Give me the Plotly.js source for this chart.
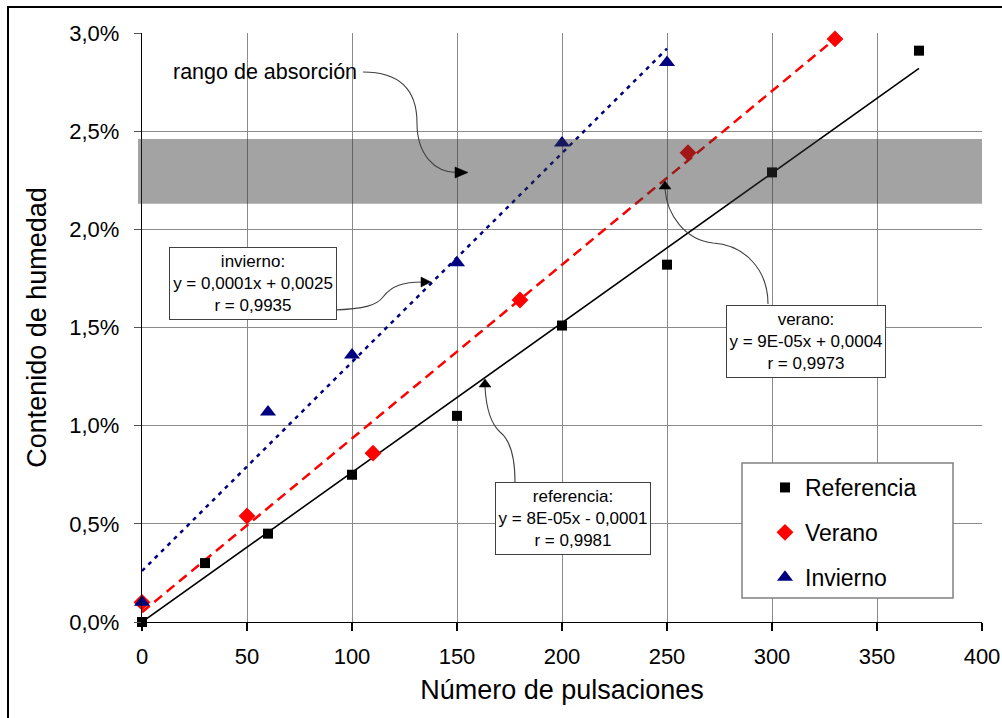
<!DOCTYPE html>
<html>
<head>
<meta charset="utf-8">
<script src="https://cdn.plot.ly/plotly-3.0.1.min.js"></script>
<style>html,body{margin:0;padding:0;background:#fff;}#chart{width:1002px;height:718px;}</style>
</head>
<body>
<div id="chart"></div>
<script>
// ---- data ----
const refX = [0, 30, 60, 100, 150, 200, 250, 300, 370];
const refY = [0.0000, 0.0030, 0.0045, 0.0075, 0.0105, 0.0151, 0.0182, 0.0229, 0.0291];
const verX = [0, 50, 110, 180, 260, 330];
const verY = [0.0010, 0.0054, 0.0086, 0.0164, 0.0239, 0.0297];
const invX = [0, 60, 100, 150, 200, 250];
const invY = [0.0010, 0.0107, 0.0136, 0.0183, 0.0244, 0.0285];
// trend lines (end points)
const refTrendX = [0, 370];
const refTrendY = [0.0000, 0.0282];
const verTrendX = [0, 330];
const verTrendY = [0.0005, 0.0297];
const invTrendX = [0, 250];
const invTrendY = [0.0026, 0.0292];
// absorption range
const bandRange = [0.0213, 0.0246];
const seriesNames = ['Referencia', 'Verano', 'Invierno'];
const xTicks = [0, 50, 100, 150, 200, 250, 300, 350, 400];
const yTicks = [0, 0.005, 0.010, 0.015, 0.020, 0.025, 0.030];
const eqRef = ['referencia:', 'y = 8E-05x - 0,0001', 'r = 0,9981'];
const eqVer = ['verano:', 'y = 9E-05x + 0,0004', 'r = 0,9973'];
const eqInv = ['invierno:', 'y = 0,0001x + 0,0025', 'r = 0,9935'];
const bandLabel = 'rango de absorción';

// ---- layout helpers (pixel -> paper) ----
const L = 142, T = 33, W = 840, H = 589;
const PX = p => (p - L) / W;
const PY = p => (T + H - p) / H;
const toPaper = s => s.replace(/(-?\d+\.?\d*),(-?\d+\.?\d*)/g, (m, a, b) => PX(+a).toFixed(5) + ',' + PY(+b).toFixed(5));
const FONT = 'Liberation Sans, Arial, sans-serif';

const traces = [
  {x: refTrendX, y: refTrendY, mode: 'lines', line: {color: '#000', width: 1.6}, showlegend: false, hoverinfo: 'skip', cliponaxis: false},
  {x: verTrendX, y: verTrendY, mode: 'lines', line: {color: '#ff0000', width: 2.5, dash: '10px,6px'}, showlegend: false, hoverinfo: 'skip', cliponaxis: false},
  {x: invTrendX, y: invTrendY, mode: 'lines', line: {color: '#000080', width: 2.5, dash: '4px,5px'}, showlegend: false, hoverinfo: 'skip', cliponaxis: false},
  {x: refX, y: refY, name: seriesNames[0], mode: 'markers', legendgroup: 'a', marker: {symbol: 'square', size: 10, color: '#000'}, cliponaxis: false},
  {x: verX, y: verY, name: seriesNames[1], mode: 'markers', legendgroup: 'b', marker: {symbol: 'diamond', size: 13, color: '#ff0000'}, cliponaxis: false},
  {x: invX, y: invY, name: seriesNames[2], mode: 'markers', legendgroup: 'c', marker: {symbol: 'triangle-up', size: 14, color: '#000080'}, cliponaxis: false}
];

const arrowColor = '#404040';
const curve = (d) => ({type: 'path', xref: 'paper', yref: 'paper', path: toPaper(d), line: {color: arrowColor, width: 1.1}, layer: 'above'});
const head = (d) => ({type: 'path', xref: 'paper', yref: 'paper', path: toPaper(d), fillcolor: '#000', line: {color: '#000', width: 0.5}, layer: 'above'});

const shapes = [
  // outer frame
  {type: 'rect', xref: 'paper', yref: 'paper', x0: PX(8), x1: PX(1012), y0: PY(7), y1: PY(730), line: {color: '#000', width: 2}, layer: 'below'},
  // absorption band (semi-transparent over the data)
  {type: 'rect', xref: 'paper', yref: 'y', x0: PX(138), x1: 1, y0: bandRange[0], y1: bandRange[1], fillcolor: 'rgb(50,50,50)', opacity: 0.45, line: {width: 0}, layer: 'above'},
  // legend box
  {type: 'rect', xref: 'paper', yref: 'paper', x0: PX(742), x1: PX(953), y0: PY(463), y1: PY(598), fillcolor: '#fff', line: {color: '#808080', width: 1.5}, layer: 'above'},
  // arrows
  curve('M363,72 C400,72 417,90 417,123 C417,155 435,172 456,172.5'),
  head('M468,172.5 L455,167 L455,178 Z'),
  curve('M333,310 C365,309 377,305 383,297 C392,285 405,282 422,282'),
  head('M431,282 L421,277 L421,287 Z'),
  curve('M768,304 C768,270 745,245 713,243 C685,240 667,215 665,189'),
  head('M665,181 L659,189 L671,189 Z'),
  curve('M515,482 C515,455 510,440 500,432 C490,423 486,405 485,387'),
  head('M485,379 L479,387 L491,387 Z')
];

const box = (lines, x0, y0, x1, y1) => ({
  xref: 'paper', yref: 'paper', x: PX((x0 + x1) / 2), y: PY((y0 + y1) / 2),
  xanchor: 'center', yanchor: 'middle', showarrow: false,
  text: lines.join('<br>'), align: 'center',
  font: {family: FONT, size: 17, color: '#000'},
  width: x1 - x0 - 2, height: y1 - y0 - 2, borderpad: 0,
  bgcolor: '#fff', bordercolor: '#404040', borderwidth: 1
});

const annotations = [
  {xref: 'paper', yref: 'paper', x: PX(265), y: PY(72), xanchor: 'center', yanchor: 'middle', showarrow: false,
   text: bandLabel, font: {family: FONT, size: 21.5, color: '#000'}},
  box(eqInv, 169, 247, 337, 320),
  box(eqVer, 726, 305, 886, 378),
  box(eqRef, 495, 482, 651, 555)
];

const layout = {
  width: 1002, height: 718,
  margin: {l: L, r: 1002 - L - W, t: T, b: 718 - T - H, pad: 0},
  paper_bgcolor: '#fff', plot_bgcolor: '#fff',
  separators: ',.',
  font: {family: FONT, color: '#000'},
  showlegend: true,
  legend: {x: PX(765), y: PY(466), xanchor: 'left', yanchor: 'top', bgcolor: 'rgba(0,0,0,0)', borderwidth: 0,
           font: {family: FONT, size: 23, color: '#000'}, traceorder: 'grouped', tracegroupgap: 12},
  xaxis: {
    range: [0, 400], tickvals: xTicks, ticktext: xTicks.map(String),
    showgrid: true, gridcolor: '#8a8a8a', gridwidth: 1,
    showline: true, linecolor: '#000', linewidth: 1.3,
    ticks: 'outside', ticklen: 8, tickcolor: '#000', tickwidth: 1.3,
    tickfont: {family: FONT, size: 22, color: '#000'}, zeroline: false, ticklabelstandoff: 6,
    title: {text: 'Número de pulsaciones', font: {family: FONT, size: 27, color: '#000'}, standoff: 12}
  },
  yaxis: {
    range: [0, 0.03], tickvals: yTicks, tickformat: '.1%',
    showgrid: true, gridcolor: '#8a8a8a', gridwidth: 1,
    showline: true, linecolor: '#000', linewidth: 1.3,
    ticks: 'outside', ticklen: 7, tickcolor: '#555', tickwidth: 1,
    tickfont: {family: FONT, size: 22, color: '#000'}, zeroline: false, ticklabelstandoff: 10,
    title: {text: 'Contenido de humedad', font: {family: FONT, size: 27, color: '#000'}, standoff: 14}
  },
  shapes: shapes,
  annotations: annotations
};

Plotly.newPlot('chart', traces, layout, {displayModeBar: false, staticPlot: true});
</script>
</body>
</html>
